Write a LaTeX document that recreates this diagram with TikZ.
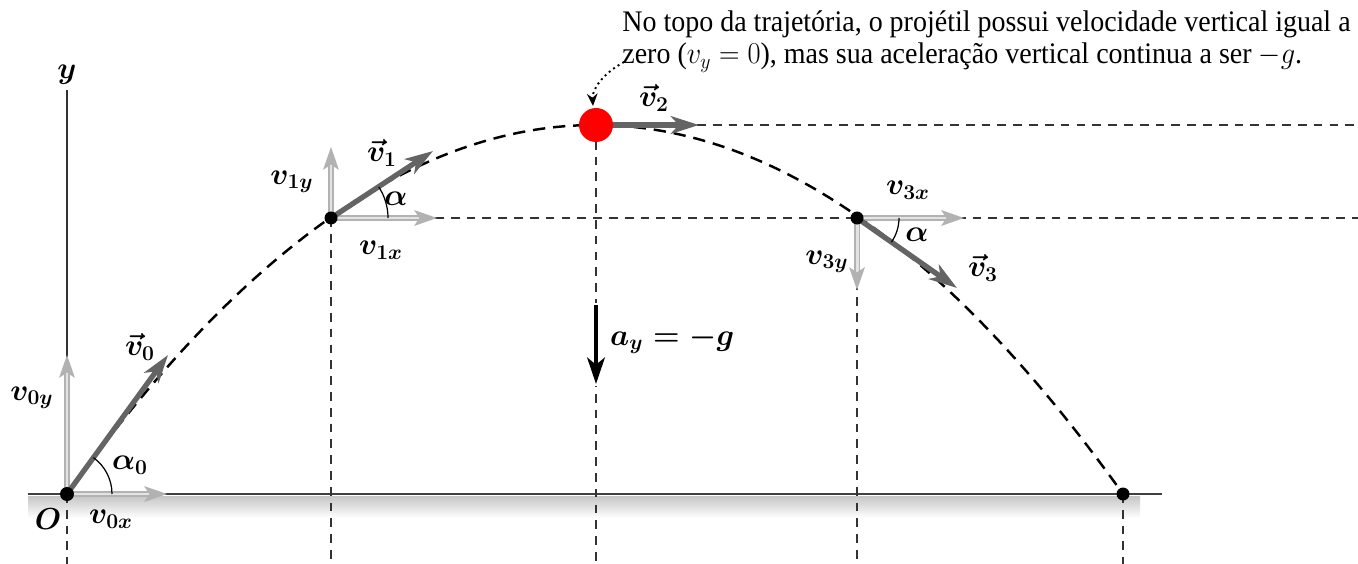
\documentclass[tikz,border=0pt]{standalone}
\usepackage{amsmath,bm}
\usepackage{fontspec}
\newfontfamily\annfont{Liberation Serif}
\usetikzlibrary{arrows.meta,calc}
\begin{document}
\begin{tikzpicture}[x=0.02cm,y=-0.02cm,
  lbl/.style={inner sep=1pt,font=\fontsize{17}{20}\selectfont\boldmath},
  vecarrow/.style={draw=gray!65!black!90,line width=3pt,-{Stealth[length=16pt,width=10pt,inset=4.5pt]}},
  comparrow/.style={draw=gray!60,double=gray!22,double distance=1.7pt,line width=0.8pt,-{Stealth[length=13pt,width=9pt,inset=3pt]}},
  guide/.style={draw=black!80,line width=0.75pt,dash pattern=on 5pt off 4pt},
  traj/.style={draw=black,line width=1.4pt,dash pattern=on 7pt off 4.5pt},
  angarc/.style={draw=black,line width=0.7pt}]
\useasboundingbox (0,0) rectangle (1358,564);

% key points
\coordinate (O) at (67,494);
\coordinate (P1) at (331,218);
\coordinate (P2) at (596,125);
\coordinate (P3) at (857,218);
\coordinate (P4) at (1123,494);

% ground shadow and ground
\fill[top color=gray!45,bottom color=white] (28,496) rectangle (1140,518);
\coordinate (g0) at (28,494);
\coordinate (g1) at (1162,494);
\draw[line width=1.2pt,black!75] (g0) -- (g1);

% y axis
\coordinate (yt) at (67,90);
\draw[line width=0.8pt,black!80] (O) -- (yt);
\node[lbl] (ylab) at (67,75) {$y$};

% guide lines
\coordinate (b0) at (67,564);
\coordinate (b1) at (331,564);
\coordinate (b2) at (596,564);
\coordinate (b3) at (857,564);
\coordinate (b4) at (1123,564);
\coordinate (h1s) at (435,218);
\coordinate (h1e) at (1358,218);
\coordinate (h2s) at (697,125);
\coordinate (h2e) at (1358,125);
\draw[guide] (O) -- (b0);
\draw[guide] (P1) -- (b1);
\draw[guide] (P2) -- (b2);
\draw[guide] (P3) -- (b3);
\draw[guide] (P4) -- (b4);
\draw[guide] (h1s) -- (h1e);
\draw[guide] (h2s) -- (h2e);

% trajectory
\draw[traj] plot[domain=67:1123,samples=120] (\x,{125+369*((\x-595)/528)^2});

% point 0 vectors
\coordinate (v0e) at (168,355);
\coordinate (v0ye) at (67,355);
\coordinate (v0xe) at (167,494);
\draw[comparrow] (O) -- (v0ye);
\draw[comparrow] (O) -- (v0xe);
\draw[vecarrow] (O) -- (v0e);
\draw[angarc] ($(O)+(45,0)$) arc[start angle=0,end angle=-54,radius=45];
\node[lbl] (lv0) at (140,347) {$\vec{\bm v}_0$};
\node[lbl] (lv0y) at (32,398) {$v_{0y}$};
\node[lbl] (lv0x) at (111,519) {$v_{0x}$};
\node[lbl] (la0) at (130,465) {$\alpha_0$};
\node[lbl] (lO) at (48,519) {$O$};

% point 1 vectors
\coordinate (v1e) at (433,151);
\coordinate (v1ye) at (331,147);
\coordinate (v1xe) at (437,218);
\draw[comparrow] (P1) -- (v1ye);
\draw[comparrow] (P1) -- (v1xe);
\draw[vecarrow] (P1) -- (v1e);
\draw[angarc] ($(P1)+(57,0)$) arc[start angle=0,end angle=-33,radius=57];
\node[lbl] (lv1) at (382,153) {$\vec{\bm v}_1$};
\node[lbl] (lv1y) at (292,182) {$v_{1y}$};
\node[lbl] (lv1x) at (381,250) {$v_{1x}$};
\node[lbl] (la1) at (396,199) {$\alpha$};

% top point
\coordinate (v2e) at (699,125);
\draw[vecarrow] (P2) -- (v2e);
\fill[red] (P2) circle[radius=17];
\node[lbl] (lv2) at (654,98) {$\vec{\bm v}_2$};

% point 3 vectors
\coordinate (v3e) at (957,288);
\coordinate (v3ye) at (857,290);
\coordinate (v3xe) at (964,218);
\draw[comparrow] (P3) -- (v3ye);
\draw[comparrow] (P3) -- (v3xe);
\draw[vecarrow] (P3) -- (v3e);
\draw[angarc] ($(P3)+(42,0)$) arc[start angle=0,end angle=35,radius=42];
\node[lbl] (lv3) at (983,268) {$\vec{\bm v}_3$};
\node[lbl] (lv3y) at (827,262) {$v_{3y}$};
\node[lbl] (lv3x) at (908,190) {$v_{3x}$};
\node[lbl] (la3) at (917,235) {$\alpha$};

% dots
\fill[black] (O) circle[radius=7];
\fill[black] (P1) circle[radius=6.5];
\fill[black] (P3) circle[radius=6.5];
\fill[black] (P4) circle[radius=6.5];

% acceleration
\coordinate (as) at (596,305);
\coordinate (ae) at (596,384);
\fill[white] (588,303) rectangle (604,386);
\draw[black,line width=2.4pt,-{Stealth[length=15pt,width=10pt,inset=4pt]}] (as) -- (ae);
\node[lbl,anchor=west] (lay) at (608,340) {$a_y = -g$};

% annotation
\node[anchor=base west,inner sep=0pt,font=\fontsize{17}{18.14}\selectfont] (note) at (622,32) {\begin{tabular}[t]{@{}l@{}}\scalebox{0.937}[1]{\annfont No topo da trajetória, o projétil possui velocidade vertical igual a}\\ \scalebox{0.937}[1]{\annfont zero ($v_y = 0$), mas sua aceleração vertical continua a ser $-g$.}\end{tabular}};
\coordinate (cs) at (624,62);
\coordinate (ce) at (593,106);
\draw[black,line width=1.1pt,dotted,-{Stealth[length=7pt,width=6pt]}] (cs) .. controls (602,74) and (592,90) .. (ce);
\end{tikzpicture}
\end{document}
